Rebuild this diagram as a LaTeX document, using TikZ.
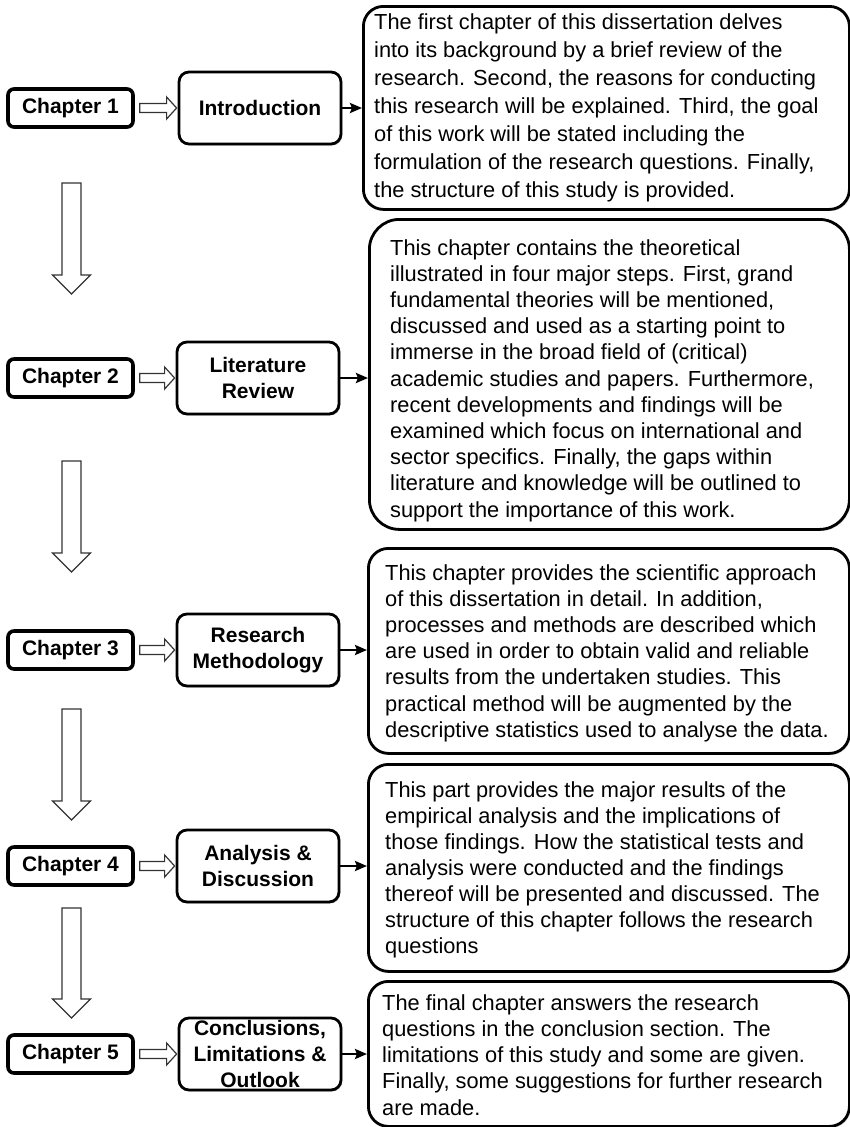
\documentclass[tikz,border=0pt]{standalone}
\usepackage{fontspec}
\setmainfont{Liberation Sans}
\usetikzlibrary{arrows.meta,calc,shadows}
\begin{document}
\begin{tikzpicture}[x=1pt,y=-1pt,
  shade/.style={drop shadow={shadow xshift=1.3pt,shadow yshift=-1.5pt,fill=black!45,opacity=0.5}},
  chapbox/.style={draw=black,line width=3.6pt,rounded corners=6pt,fill=white,shade,
    minimum width=125pt,minimum height=38pt,inner sep=0pt,
    font=\fontsize{21}{25}\selectfont\bfseries},
  midbox/.style={draw=black,line width=2.8pt,rounded corners=10pt,fill=white,shade,
    minimum width=162pt,minimum height=72pt,inner sep=0pt},
  midtext/.style={align=center,inner sep=0pt,font=\fontsize{21}{26}\selectfont\bfseries},
  descbox/.style={draw=black,line width=2.8pt,rounded corners=20pt,fill=white,shade,
    anchor=north west,inner sep=0pt},
  desctext/.style={align=left,inner sep=0pt,anchor=north west},
  hollow/.style={draw=black!80,line width=1.2pt,fill=white,line join=miter},
  link/.style={draw=black,line width=2.6pt,-{Stealth[length=12pt,width=10pt,inset=2pt]}}
]
\useasboundingbox (0,0) rectangle (850,1127);

% description boxes
\node[descbox,minimum width=486pt,minimum height=203pt] (d1) at (362,5) {};
\node[descbox,rounded corners=30pt,minimum width=480pt,minimum height=310pt] (d2) at (368,218) {};
\node[descbox,minimum width=481pt,minimum height=205pt] (d3) at (367,547) {};
\node[descbox,minimum width=481pt,minimum height=207pt] (d4) at (367,763) {};
\node[descbox,minimum width=481pt,minimum height=145pt] (d5) at (367,980) {};

\node[desctext,font=\fontsize{21.8}{28}\selectfont] (t1) at (374,14) {The first chapter of this dissertation delves\\
into its background by a brief review of the\\
research. Second, the reasons for conducting\\
this research will be explained. Third, the goal\\
of this work will be stated including the\\
formulation of the research questions. Finally,\\
the structure of this study is provided.};

\node[desctext,font=\fontsize{21.8}{26.2}\selectfont] (t2) at (390,239) {This chapter contains the theoretical\\
illustrated in four major steps. First, grand\\
fundamental theories will be mentioned,\\
discussed and used as a starting point to\\
immerse in the broad field of (critical)\\
academic studies and papers. Furthermore,\\
recent developments and findings will be\\
examined which focus on international and\\
sector specifics. Finally, the gaps within\\
literature and knowledge will be outlined to\\
support the importance of this work.};

\node[desctext,font=\fontsize{21.8}{26.2}\selectfont] (t3) at (385,564) {This chapter provides the scientific approach\\
of this dissertation in detail. In addition,\\
processes and methods are described which\\
are used in order to obtain valid and reliable\\
results from the undertaken studies. This\\
practical method will be augmented by the\\
descriptive statistics used to analyse the data.};

\node[desctext,font=\fontsize{21.8}{26.1}\selectfont] (t4) at (385,781) {This part provides the major results of the\\
empirical analysis and the implications of\\
those findings. How the statistical tests and\\
analysis were conducted and the findings\\
thereof will be presented and discussed. The\\
structure of this chapter follows the research\\
questions};

\node[desctext,font=\fontsize{21.8}{26.3}\selectfont] (t5) at (382,994) {The final chapter answers the research\\
questions in the conclusion section. The\\
limitations of this study and some are given.\\
Finally, some suggestions for further research\\
are made.};

% chapter boxes
\node[chapbox] (c1) at (70.5,108) {Chapter 1};
\node[chapbox] (c2) at (70.5,378) {Chapter 2};
\node[chapbox] (c3) at (70.5,650) {Chapter 3};
\node[chapbox] (c4) at (70.5,866) {Chapter 4};
\node[chapbox] (c5) at (70.5,1054) {Chapter 5};

% middle boxes
\node[midbox] (m1) at (260,108) {};
\node[midtext] at (m1) {Introduction};
\node[midbox] (m2) at (258,378) {};
\node[midtext] at (m2) {Literature\\Review};
\node[midbox] (m3) at (258,650) {};
\node[midtext] at (m3) {Research\\Methodology};
\node[midbox] (m4) at (258,866) {};
\node[midtext] at (m4) {Analysis \&\\Discussion};
\node[midbox] (m5) at (260,1054) {};
\node[midtext] at (m5) {Conclusions,\\Limitations \&\\Outlook};

% black links
\foreach \i in {1,...,5}{
  \draw[link] (m\i.east) -- (m\i.east -| d\i.west);
}

% horizontal hollow arrows
\foreach \i in {1,...,5}{
  \coordinate (hs\i) at ($(c\i.east)+(5,0)$);
  \coordinate (he\i) at ($(m\i.west)+(-1,0)$);
  \draw[hollow] ($(hs\i)+(0,-4.5)$) -- ($(he\i)+(-10,-4.5)$) -- ($(he\i)+(-10,-11)$) -- (he\i)
    -- ($(he\i)+(-10,11)$) -- ($(he\i)+(-10,4.5)$) -- ($(hs\i)+(0,4.5)$) -- cycle;
}

% vertical hollow arrows
\coordinate (vt1) at (71.5,183);  \coordinate (vb1) at (71.5,294);
\coordinate (vt2) at (71.5,461);  \coordinate (vb2) at (71.5,572);
\coordinate (vt3) at (71.5,709);  \coordinate (vb3) at (71.5,820);
\coordinate (vt4) at (71.5,908);  \coordinate (vb4) at (71.5,1018);
\foreach \i in {1,...,4}{
  \draw[hollow] ($(vt\i)+(-9.5,0)$) -- ($(vb\i)+(-9.5,-19)$) -- ($(vb\i)+(-19,-19)$) -- (vb\i)
    -- ($(vb\i)+(19,-19)$) -- ($(vb\i)+(9.5,-19)$) -- ($(vt\i)+(9.5,0)$) -- cycle;
}
\end{tikzpicture}
\end{document}
